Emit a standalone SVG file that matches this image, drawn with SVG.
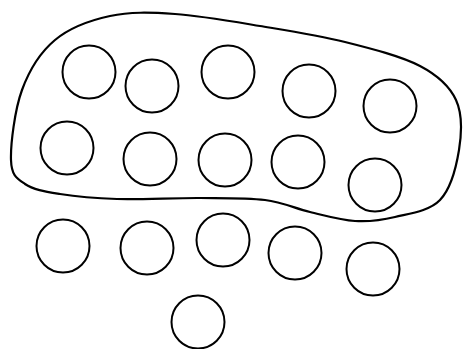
<svg xmlns="http://www.w3.org/2000/svg" width="464" height="349" viewBox="0 0 464 349">
<style>
.n{fill:none;stroke:#000;stroke-width:2}
.b{fill:none;stroke:#000;stroke-width:2.2;stroke-linejoin:round}
</style>
<rect width="464" height="349" fill="#fff"/>
<g id="set">
<path class="b" d="M 11,160 C 10.5,144.3 14.7,110 22,90 C 29.3,70 40.3,52.3 55,40 C 69.7,27.7 90,20.3 110,16 C 130,11.7 150,12.3 175,14 C 200,15.7 231.7,21.3 260,26 C 288.3,30.7 318.3,35.3 345,42 C 371.7,48.7 401.5,56.3 420,66 C 438.5,75.7 449.5,86 456,100 C 462.5,114 461.7,133.3 459,150 C 456.3,166.7 450.7,188.8 440,200 C 429.3,211.2 409.2,213.5 395,217 C 380.8,220.5 369.2,221.8 355,221 C 340.8,220.2 325,215.5 310,212 C 295,208.5 283.3,202.3 265,200 C 246.7,197.7 224.7,198.2 200,198 C 175.3,197.8 140.3,199.7 117,199 C 93.7,198.3 75.3,196.5 60,194 C 44.7,191.5 33.2,189.7 25,184 C 16.8,178.3 11.5,175.7 11,160 Z"/>
</g>
<g id="connectors"/>
<g id="n1"><circle class="n" cx="89" cy="72" r="26.5"/></g>
<g id="n2"><circle class="n" cx="152" cy="86" r="26.5"/></g>
<g id="n3"><circle class="n" cx="228" cy="72" r="26.5"/></g>
<g id="n4"><circle class="n" cx="309" cy="91" r="26.5"/></g>
<g id="n5"><circle class="n" cx="390" cy="106" r="26.5"/></g>
<g id="n6"><circle class="n" cx="67" cy="148" r="26.5"/></g>
<g id="n7"><circle class="n" cx="150" cy="159" r="26.5"/></g>
<g id="n8"><circle class="n" cx="225" cy="160" r="26.5"/></g>
<g id="n9"><circle class="n" cx="298" cy="162" r="26.5"/></g>
<g id="n10"><circle class="n" cx="375" cy="185" r="26.5"/></g>
<g id="n11"><circle class="n" cx="63" cy="246" r="26.5"/></g>
<g id="n12"><circle class="n" cx="147" cy="248" r="26.5"/></g>
<g id="n13"><circle class="n" cx="223" cy="240" r="26.5"/></g>
<g id="n14"><circle class="n" cx="295" cy="253" r="26.5"/></g>
<g id="n15"><circle class="n" cx="373" cy="269" r="26.5"/></g>
<g id="n16"><circle class="n" cx="198" cy="322" r="26.5"/></g>
</svg>
